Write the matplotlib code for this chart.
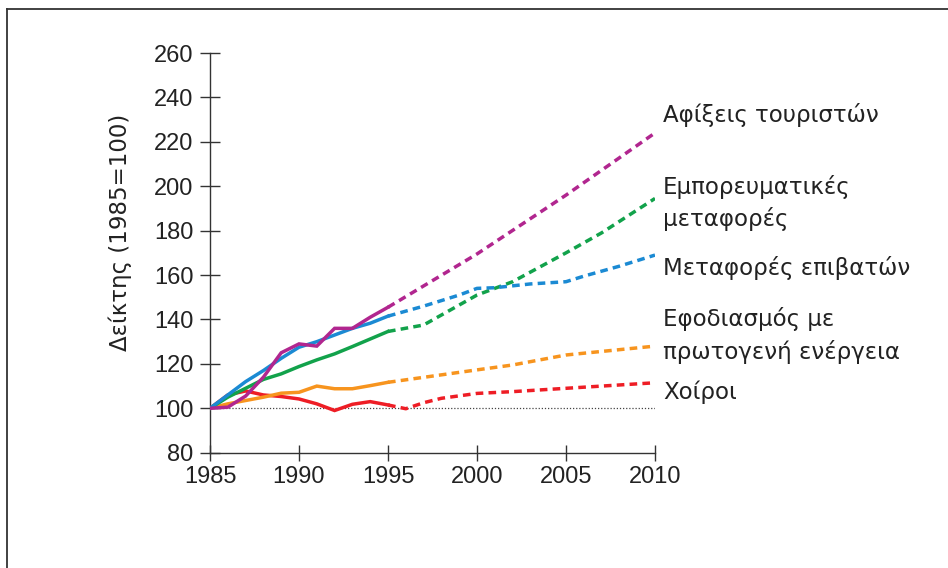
import matplotlib
matplotlib.use("Agg")
import matplotlib.pyplot as plt
from matplotlib.lines import Line2D

plt.rcParams['font.family'] = ['Liberation Sans', 'DejaVu Sans']

# ---- data ----
years_hist = [1985, 1986, 1987, 1988, 1989, 1990, 1991, 1992, 1993, 1994, 1995]
tourists_hist = [100, 100.5, 105.5, 114, 125, 129, 128, 136, 136, 141, 145.5]
passenger_hist = [100, 106, 112, 117, 122.5, 127.5, 130, 133, 136, 138.3, 141.5]
freight_hist = [100, 105, 109, 113, 115.5, 118.8, 121.8, 124.5, 127.8, 131.2, 134.6]
energy_hist = [100, 102, 103.5, 105, 106.8, 107.2, 110, 108.8, 108.8, 110.2, 111.7]
pigs_hist = [100, 106, 107.8, 106, 105.3, 104.2, 102, 99, 101.8, 103, 101.5]

years_tour_proj = [1995, 2000, 2005, 2010]
tourists_proj = [145.5, 169.5, 196, 224]
years_pass_proj = [1995, 1997, 1999, 2000, 2001, 2003, 2005, 2006, 2008, 2010]
passenger_proj = [141.5, 146, 151, 154, 154.3, 156, 157, 159.5, 164, 169]
years_freight_proj = [1995, 1997, 2000, 2002, 2005, 2007, 2010]
freight_proj = [134.6, 137.5, 151, 157, 170, 179, 194.5]
years_energy_proj = [1995, 2000, 2002, 2005, 2010]
energy_proj = [111.7, 117.3, 119.5, 124, 128]
years_pigs_proj = [1995, 1996, 1997, 1998, 2000, 2002, 2005, 2010]
pigs_proj = [101.5, 99.8, 102.5, 104.5, 106.7, 107.5, 109, 111.5]

labels = ["Αφίξεις τουριστών", "Εμπορευματικές\nμεταφορές", "Μεταφορές επιβατών",
          "Εφοδιασμός με\nπρωτογενή ενέργεια", "Χοίροι"]
label_y = [232, 192.5, 163.2, 132.7, 107.2]

x_ticks = [1985, 1990, 1995, 2000, 2005, 2010]
y_ticks = [80, 100, 120, 140, 160, 180, 200, 220, 240, 260]

c_tour = '#B1268F'
c_pass = '#1B8AD3'
c_freight = '#12A24B'
c_energy = '#F7941E'
c_pigs = '#EE1D25'

fig = plt.figure(figsize=(9.48, 5.68), dpi=100)
ax = fig.add_axes([210/948, 1-452.7/568, 445/948, (452.7-53)/568])

lw = 2.5
dash = (0, (2.2, 1.5))
series = [
    (years_hist, tourists_hist, years_tour_proj, tourists_proj, c_tour),
    (years_hist, passenger_hist, years_pass_proj, passenger_proj, c_pass),
    (years_hist, freight_hist, years_freight_proj, freight_proj, c_freight),
    (years_hist, energy_hist, years_energy_proj, energy_proj, c_energy),
    (years_hist, pigs_hist, years_pigs_proj, pigs_proj, c_pigs),
]
ax.plot([1985, 2010], [100, 100], color='#444444', lw=0.9, ls=(0, (1, 1.5)), zorder=1)
for xh, yh, xp, yp, c in series[::-1]:
    ax.plot(xh, yh, color=c, lw=lw, solid_joinstyle='miter', zorder=3)
    ax.plot(xp, yp, color=c, lw=lw, ls=dash, zorder=2)

ax.set_xlim(1985, 2010)
ax.set_ylim(80, 260)
ax.set_xticks(x_ticks)
ax.set_yticks(y_ticks)
for s in ['top', 'right']:
    ax.spines[s].set_visible(False)
for s in ['left', 'bottom']:
    ax.spines[s].set_color('#333333')
    ax.spines[s].set_linewidth(1.0)
ax.tick_params(axis='y', direction='inout', length=14, width=1.0, color='#333333',
               labelsize=17, labelcolor='#222222', pad=5)
ax.tick_params(axis='x', direction='inout', length=11, width=1.0, color='#333333',
               labelsize=17, labelcolor='#222222', pad=4)

fig.text(120/948, 1 - 232/568, "Δείκτης (1985=100)", rotation=90, fontsize=16.5,
         family=['DejaVu Sans'], color='#222222', ha='center', va='center')

for t, yv in zip(labels, label_y):
    ax.text(2010.45, yv, t, fontsize=16.5, family=['DejaVu Sans'], color='#222222',
            va='center', ha='left', linespacing=1.45, clip_on=False)

# figure frame (left and top edges)
fx = 6.5/948
fy = 1 - 8.5/568
fig.add_artist(Line2D([fx, fx], [0, fy], transform=fig.transFigure, color='#333333', lw=1.3))
fig.add_artist(Line2D([fx, 1], [fy, fy], transform=fig.transFigure, color='#333333', lw=1.3))

fig.savefig("out.png", dpi=100)
